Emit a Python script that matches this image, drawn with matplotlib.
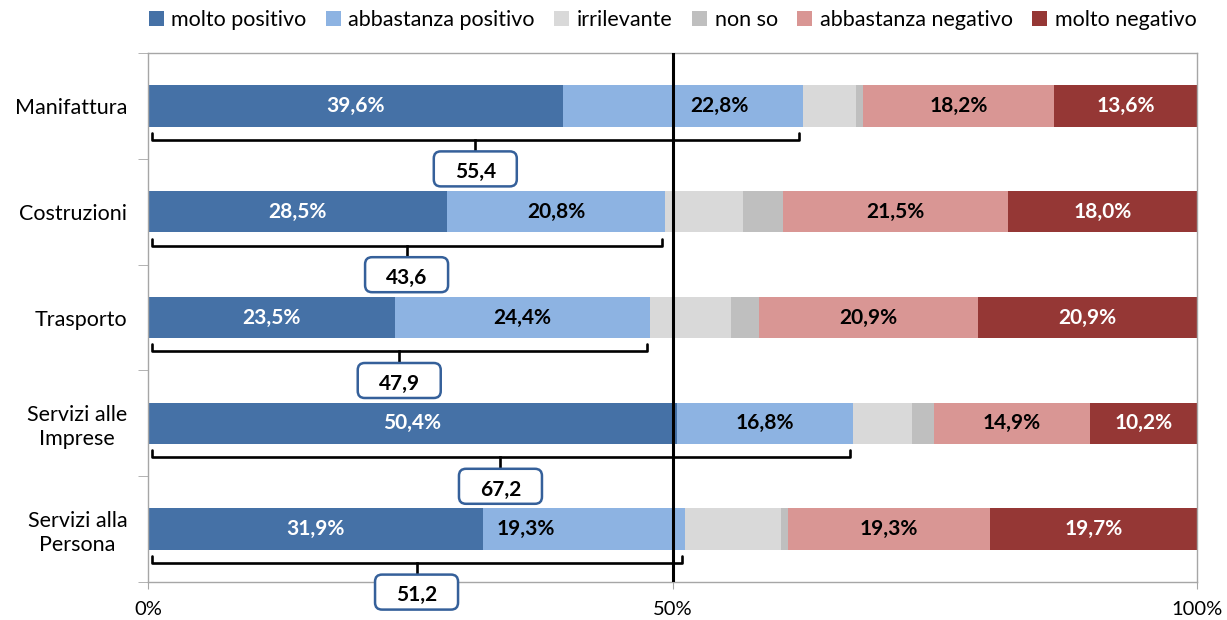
import matplotlib
matplotlib.use("Agg")
import matplotlib.pyplot as plt
import matplotlib.transforms as mtransforms
from matplotlib.patches import FancyBboxPatch, Patch
import numpy as np

plt.rcParams['font.family'] = ['Lato', 'DejaVu Sans']

categories = ["Manifattura", "Costruzioni", "Trasporto", "Servizi alle\nImprese", "Servizi alla\nPersona"]
series_names = ["molto positivo", "abbastanza positivo", "irrilevante", "non so",
                "abbastanza negativo", "molto negativo"]
molto_positivo = [39.6, 28.5, 23.5, 50.4, 31.9]
abbastanza_positivo = [22.8, 20.8, 24.4, 16.8, 19.3]
irrilevante = [5.1, 7.4, 7.7, 5.6, 9.1]
non_so = [0.7, 3.8, 2.6, 2.1, 0.7]
abbastanza_negativo = [18.2, 21.5, 20.9, 14.9, 19.3]
molto_negativo = [13.6, 18.0, 20.9, 10.2, 19.7]
box_values = [55.4, 43.6, 47.9, 67.2, 51.2]
x_ticks = [0, 50, 100]
x_ticklabels = ["0%", "50%", "100%"]

colors = ["#4571A6", "#8DB3E2", "#D9D9D9", "#BFBFBF", "#D99694", "#953735"]
label_colors = ["white", "black", None, None, "black", "white"]
# manual label nudges (in % units) mirroring the reference
nudges = {(0, 1): 3.5, (4, 1): -5.5}

series = [molto_positivo, abbastanza_positivo, irrilevante, non_so,
          abbastanza_negativo, molto_negativo]

FS = 15.5

fig = plt.figure(figsize=(12.27, 6.2), dpi=100)
ax = fig.add_axes([148/1227, 1-582/620, (1197-148)/1227, (582-53)/620])

y = np.arange(len(categories))
bar_h = 0.39
left = np.zeros(len(categories))
for s_i, (vals, col) in enumerate(zip(series, colors)):
    vals = np.array(vals)
    ax.barh(y, vals, left=left, height=bar_h, color=col, edgecolor='none',
            label=series_names[s_i], zorder=2)
    if label_colors[s_i] is not None:
        for i, v in enumerate(vals):
            cx = left[i] + v/2 + nudges.get((i, s_i), 0)
            ax.text(cx, y[i], f"{v:.1f}%".replace('.', ','), ha='center', va='center',
                    color=label_colors[s_i], fontsize=15, fontweight='bold', zorder=4)
    left = left + vals

# 50% line
ax.axvline(50, color='black', lw=2.2, zorder=5)

# brackets + boxes
pos_sum = np.array(molto_positivo) + np.array(abbastanza_positivo)
for i in range(len(categories)):
    x0 = 0.4
    x1 = pos_sum[i] - 0.3
    yl = y[i] + 0.32
    ye = y[i] + 0.255
    ax.plot([x0, x0, x1, x1], [ye, yl, yl, ye], color='black', lw=1.9,
            solid_joinstyle='round', solid_capstyle='round', zorder=6, clip_on=False)
    cx = pos_sum[i] / 2
    ytop = y[i] + 0.43
    ax.plot([cx, cx], [yl, ytop], color='black', lw=1.9, zorder=6, clip_on=False)
    trans = fig.dpi_scale_trans + mtransforms.ScaledTranslation(cx, ytop, ax.transData)
    w, h = 0.83, 0.35
    box = FancyBboxPatch((-w/2, -h), w, h, boxstyle="round,pad=0,rounding_size=0.07",
                         transform=trans, facecolor='white', edgecolor='#35609A',
                         lw=1.8, zorder=7, clip_on=False)
    ax.add_patch(box)
    ax.annotate(f"{box_values[i]:.1f}".replace('.', ','), xy=(cx, ytop),
                xytext=(0, -15), textcoords='offset points', ha='center', va='center',
                fontsize=15, fontweight='bold', color='black', zorder=8,
                annotation_clip=False)

ax.set_xlim(0, 100)
ax.set_ylim(len(categories) - 0.5, -0.5)
ax.set_yticks(y)
ax.set_yticklabels(categories, fontsize=FS)
for t in ax.get_yticklabels():
    t.set_multialignment('center')
    t.set_linespacing(1.25)
ax.set_yticks(np.arange(-0.5, len(categories)), minor=True)
ax.tick_params(axis='y', which='major', length=0, pad=15)
ax.tick_params(axis='y', which='minor', length=7, color='#A6A6A6', direction='out')
ax.set_xticks(x_ticks)
ax.set_xticklabels(x_ticklabels, fontsize=14.5)
ax.tick_params(axis='x', length=5, color='#A6A6A6', pad=9)

for sp in ax.spines.values():
    sp.set_color('#A6A6A6')
    sp.set_linewidth(1.0)

handles = [Patch(facecolor=c, edgecolor='none') for c in colors]
ax.legend(handles, series_names, loc='center', bbox_to_anchor=(0.5, 1 + 33/529),
          ncol=6, frameon=False, fontsize=FS, handlelength=0.7, handleheight=0.7,
          handletextpad=0.35, columnspacing=0.9, borderaxespad=0)

fig.savefig("out.png", dpi=100)
